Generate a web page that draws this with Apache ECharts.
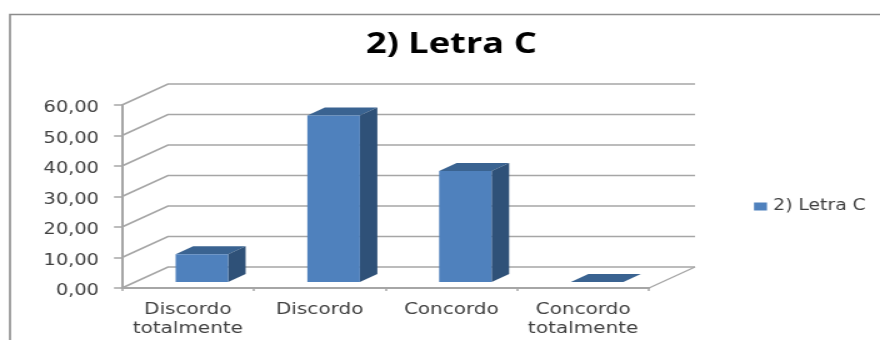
<!DOCTYPE html>
<html>
<head>
<meta charset="utf-8">
<style>
  html, body { margin: 0; padding: 0; width: 880px; height: 340px; overflow: hidden; background: #fff; }
  /* The chart is laid out narrower and widened, which gives its lettering the broad proportions. */
  #chart { width: 704px; height: 340px; transform: scaleX(1.25); transform-origin: 0 0; }
</style>
<script src="https://cdn.jsdelivr.net/npm/echarts@6/dist/echarts.min.js"></script>
</head>
<body>
<div id="chart"></div>
<script>
const categories = ['Discordo\ntotalmente', 'Discordo', 'Concordo', 'Concordo\ntotalmente'];
const seriesName = '2) Letra C';
const values = [9.09, 54.55, 36.36, 0.00];
const wallLevels = [0, 10, 20, 30, 40, 50, 60];

const WIDEN = 1.25;
const px = x => x / WIDEN;              // horizontal screen pixels to layout pixels
const GRID_LINE = '#a6a6a6';
const TEXT = '#404040';

// Depth of the box behind the axis plane, and of each column.
const wallDX = px(46), wallDY = 21;
const barDX = px(17.5), barDY = 8;
const barShiftX = px(14), barShiftY = 6, barW = px(52.5);

function renderWall(params, api) {
  const cs = params.coordSys;
  const level = api.value(0);
  const y = api.coord([0, level])[1];
  const x0 = cs.x, x1 = cs.x + cs.width;
  const children = [{
    type: 'polyline',
    shape: { points: [[x0, y], [x0 + wallDX, y - wallDY], [x1 + wallDX, y - wallDY]] },
    style: { fill: null, stroke: GRID_LINE, lineWidth: 1.6 }
  }];
  if (level === 0) {
    children.push({
      type: 'line',
      shape: { x1: x1, y1: y, x2: x1 + wallDX, y2: y - wallDY },
      style: { stroke: GRID_LINE, lineWidth: 1.4 }
    });
  }
  return { type: 'group', children };
}

function renderColumn(params, api) {
  const base = api.coord([api.value(0), 0]);
  const h = api.size([0, api.value(1)])[1];
  const l = base[0] + barShiftX - barW / 2;
  const r = l + barW;
  const b = base[1] - barShiftY;
  const t = b - h;
  const children = [{
    type: 'polygon',
    shape: { points: [[l, t], [r, t], [r + barDX, t - barDY], [l + barDX, t - barDY]] },
    style: { fill: '#3a6391' }
  }];
  if (h > 0) {
    children.push({
      type: 'polygon',
      shape: { points: [[r, t], [r + barDX, t - barDY], [r + barDX, b - barDY], [r, b]] },
      style: { fill: '#2f5178' }
    }, {
      type: 'rect',
      shape: { x: l, y: t, width: barW, height: h },
      style: { fill: '#4f81bd' }
    });
  }
  return { type: 'group', children };
}

const chart = echarts.init(document.getElementById('chart'));
chart.setOption({
  animation: false,
  backgroundColor: '#fff',
  title: {
    text: seriesName,
    left: px(445),
    top: 25,
    textAlign: 'center',
    textStyle: { fontFamily: 'Open Sans', fontWeight: 'bold', fontSize: 29, color: '#000' }
  },
  legend: {
    data: [seriesName],
    left: px(754),
    top: 199,
    icon: 'rect',
    itemWidth: px(13),
    itemHeight: 8,
    itemGap: 0,
    textStyle: { fontFamily: 'DejaVu Sans', fontSize: 15, color: TEXT, padding: [2, 0, 0, 0] },
    padding: 0
  },
  grid: { left: px(122), right: px(880 - 649), top: 105, bottom: 340 - 288 },
  xAxis: {
    type: 'category',
    data: categories,
    axisLine: { lineStyle: { color: GRID_LINE, width: 2 } },
    axisTick: { show: true, length: 3, lineStyle: { color: GRID_LINE, width: 1.5 } },
    axisLabel: {
      interval: 0, margin: 12, lineHeight: 19,
      fontFamily: 'DejaVu Sans', fontSize: 16, color: TEXT
    }
  },
  yAxis: {
    type: 'value',
    min: 0, max: 60, interval: 10,
    splitLine: { show: false },
    axisLine: { show: true, lineStyle: { color: GRID_LINE, width: 2 } },
    axisTick: { show: true, length: px(8), lineStyle: { color: GRID_LINE, width: 1.5 } },
    axisLabel: {
      margin: px(23),
      verticalAlign: 'top',
      lineHeight: 6,
      fontFamily: 'DejaVu Sans', fontSize: 15.5, color: TEXT,
      formatter: v => v.toFixed(2).replace('.', ',')
    }
  },
  series: [
    {
      type: 'custom',
      name: 'wall',
      silent: true,
      z: 1,
      renderItem: renderWall,
      encode: { y: 0 },
      data: wallLevels.map(v => [v])
    },
    {
      type: 'custom',
      name: seriesName,
      z: 3,
      itemStyle: { color: '#4f81bd' },
      renderItem: renderColumn,
      encode: { x: 0, y: 1 },
      data: values.map((v, i) => [i, v])
    }
  ],
  graphic: [
    {
      type: 'polyline',
      silent: true,
      shape: { points: [[px(880), 14.5], [px(10), 14.5], [px(10), 340]] },
      style: { fill: null, stroke: '#8c8c8c', lineWidth: 1.6 }
    }
  ]
});
</script>
</body>
</html>
